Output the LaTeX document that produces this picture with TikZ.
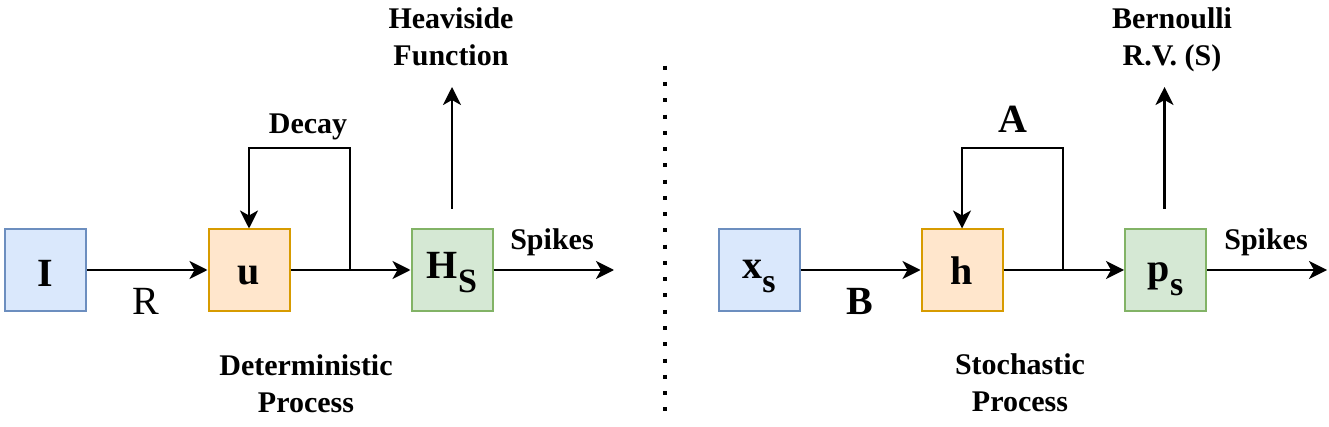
\documentclass[tikz,border=0pt]{standalone}
\usepackage{fontspec}
\setmainfont{Liberation Serif}
\usetikzlibrary{arrows.meta}
\definecolor{bfill}{HTML}{DAE8FC}
\definecolor{bline}{HTML}{6C8EBF}
\definecolor{ofill}{HTML}{FFE6CC}
\definecolor{oline}{HTML}{D79B00}
\definecolor{gfill}{HTML}{D5E8D4}
\definecolor{gline}{HTML}{82B366}
\newcommand{\subx}[1]{\raisebox{-14pt}{\fontsize{34}{40}\selectfont #1}}
\begin{document}
\begin{tikzpicture}[x=1pt,y=-1pt,
  box/.style={draw, line width=2pt, minimum width=81pt, minimum height=81pt, inner sep=0pt,
    text depth=0pt, font=\fontsize{40}{48}\selectfont\bfseries},
  bluebox/.style={box, fill=bfill, draw=bline},
  orangebox/.style={box, fill=ofill, draw=oline},
  greenbox/.style={box, fill=gfill, draw=gline},
  conn/.style={line width=2.6pt, -{Stealth[length=18pt,width=18pt,inset=5pt]}},
  lbl/.style={font=\fontsize{30}{37}\selectfont\bfseries, align=center, anchor=base, inner sep=0pt},
  big/.style={font=\fontsize{40}{48}\selectfont\bfseries, anchor=base, inner sep=0pt},
  bigreg/.style={font=\fontsize{40}{48}\selectfont, anchor=base, inner sep=0pt},
  sep/.style={line width=4pt, dash pattern=on 4pt off 12.27pt}
]
\useasboundingbox (0,0) rectangle (1329,427);

% ---------- left: deterministic ----------
\node[bluebox, text height=33pt] (I) at (45.5,270) {I};
\node[orangebox, text height=30pt] (u) at (249,270) {u};
\node[greenbox, text height=18pt] (Hs) at (452,270) {H\subx{S}};

\coordinate (j1) at (350,270);
\coordinate (t1) at (350,148);
\coordinate (hsb) at (452,209);
\coordinate (hst) at (452,87);
\coordinate (sp1) at (614,270);

\draw[conn] (I) -- (u);
\draw[conn] (u) -- (Hs);
\draw[conn] (j1) -- (t1) -| (u.north);
\draw[conn] (hsb) -- (hst);
\draw[conn] (Hs) -- (sp1);

\node[lbl] (decay) at (308,134) {Decay};
\node[lbl] (heavi) at (451,66) {Heaviside\\Function};
\node[lbl] (spk1) at (552,250) {Spikes};
\node[bigreg] (R) at (146,315) {R};
\node[lbl] (det) at (306,412) {Deterministic\\Process};

% ---------- separator ----------
\coordinate (d1) at (664.5,65.7);
\coordinate (d2) at (664.5,411.4);
\draw[sep] (d1) -- (d2);

% ---------- right: stochastic ----------
\node[bluebox, text height=18pt] (xs) at (759,270) {x\subx{s}};
\node[orangebox, text height=30pt] (h) at (962,270) {h};
\node[greenbox, text height=24pt] (ps) at (1165.5,270) {p\subx{s}};

\coordinate (j2) at (1063,270);
\coordinate (t2) at (1063,148);
\coordinate (psb) at (1164.5,209);
\coordinate (pst) at (1164.5,87);
\coordinate (sp2) at (1327,270);

\draw[conn] (xs) -- (h);
\draw[conn] (h) -- (ps);
\draw[conn] (j2) -- (t2) -| (h.north);
\draw[conn] (psb) -- (pst);
\draw[conn] (ps) -- (sp2);

\node[big] (A) at (1013,133) {A};
\node[lbl] (bern) at (1172,66) {Bernoulli\\R.V. (S)};
\node[lbl] (spk2) at (1266,250) {Spikes};
\node[big] (B) at (859.5,315) {B};
\node[lbl] (sto) at (1020,411) {Stochastic\\Process};
\end{tikzpicture}
\end{document}
